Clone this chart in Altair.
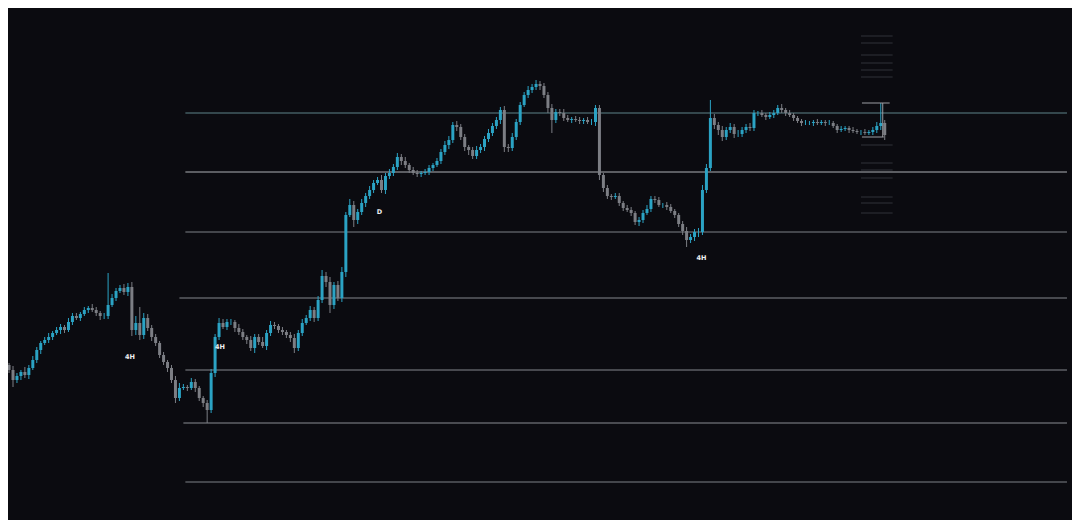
import altair as alt
import pandas as pd

# ---------------- data ----------------
first_open = 138
closes = [
    135, 130, 120, 124, 128, 125, 132, 140, 150, 157,
    160, 163, 167, 170, 173, 170, 178, 184, 182, 186,
    190, 192, 190, 187, 184, 184, 195, 202, 209, 212,
    208, 213, 170, 177, 165, 182, 172, 163, 157, 145,
    138, 132, 120, 102, 112, 113, 112, 118, 112, 102,
    97, 90, 127, 163, 177, 173, 178, 178, 172, 168,
    163, 160, 152, 163, 158, 154, 167, 175, 174, 170,
    168, 165, 162, 152, 167, 177, 182, 190, 182, 200,
    224, 218, 195, 215, 202, 228, 285, 295, 280, 288,
    297, 304, 310, 317, 320, 310, 324, 327, 333, 343,
    339, 335, 330, 327, 326, 327, 328, 332, 335, 339,
    348, 355, 360, 375, 373, 363, 353, 350, 344, 350,
    353, 361, 367, 374, 380, 390, 353, 352, 363, 378,
    395, 405, 410, 413, 416, 414, 405, 392, 380, 388,
    387, 382, 380, 381, 380, 379, 380, 378, 378, 392,
    325, 312, 304, 303, 304, 297, 292, 290, 287, 278,
    280, 287, 291, 301, 300, 295, 295, 293, 289, 285,
    276, 269, 260, 263, 268, 268, 310, 332, 382, 375,
    370, 363, 370, 373, 366, 366, 370, 373, 372, 387,
    387, 385, 383, 385, 387, 392, 390, 387, 385, 382,
    379, 377, 377, 377, 378, 377, 378, 377, 377, 374,
    370, 371, 372, 370, 369, 368, 368, 367, 368, 370,
    374, 377, 365,
]
wick_up = [
    3, 2, 4, 3, 2, 5, 3, 4, 3, 2,
    3, 4, 2, 3, 3, 2, 4, 3, 3, 2,
    3, 2, 4, 3, 2, 3, 32, 4, 3, 3,
    4, 4, 5, 7, 16, 5, 4, 3, 3, 2,
    3, 2, 3, 4, 5, 3, 2, 4, 3, 2,
    2, 3, 4, 3, 5, 4, 3, 3, 2, 4,
    3, 2, 4, 3, 3, 5, 3, 4, 3, 2,
    3, 2, 3, 4, 3, 4, 3, 4, 3, 4,
    6, 4, 5, 3, 4, 5, 3, 6, 4, 3,
    4, 3, 4, 3, 3, 5, 3, 4, 3, 4,
    3, 4, 2, 3, 3, 2, 3, 3, 2, 3,
    3, 4, 4, 3, 4, 3, 3, 2, 3, 4,
    3, 3, 4, 3, 3, 3, 4, 3, 4, 3,
    3, 3, 4, 3, 4, 3, 3, 3, 4, 3,
    3, 4, 3, 2, 3, 3, 2, 3, 3, 3,
    3, 2, 3, 2, 3, 3, 2, 3, 3, 2,
    3, 3, 4, 3, 3, 3, 2, 3, 3, 2,
    2, 3, 4, 3, 3, 4, 5, 4, 18, 4,
    3, 4, 3, 4, 3, 4, 3, 3, 4, 3,
    2, 3, 2, 3, 3, 3, 4, 2, 3, 2,
    2, 2, 3, 2, 2, 3, 2, 2, 3, 2,
    2, 3, 2, 2, 3, 2, 2, 3, 2, 3,
    4, 20, 3,
]
wick_down = [
    4, 3, 7, 3, 4, 3, 4, 2, 3, 4,
    2, 3, 3, 2, 4, 3, 2, 3, 2, 3,
    2, 3, 2, 3, 4, 3, 3, 2, 3, 2,
    3, 4, 6, 5, 5, 4, 3, 4, 3, 3,
    3, 4, 3, 5, 3, 2, 3, 2, 4, 3,
    4, 13, 3, 4, 3, 2, 3, 3, 4, 3,
    3, 4, 3, 5, 3, 2, 4, 3, 3, 3,
    3, 3, 4, 5, 3, 3, 2, 3, 4, 3,
    3, 5, 8, 4, 3, 4, 5, 2, 7, 4,
    3, 4, 3, 3, 2, 3, 4, 3, 3, 3,
    4, 3, 3, 2, 3, 3, 2, 3, 3, 2,
    3, 3, 4, 3, 4, 3, 4, 5, 3, 3,
    3, 4, 3, 3, 3, 4, 5, 4, 3, 3,
    3, 2, 3, 3, 3, 4, 3, 5, 13, 3,
    3, 3, 2, 3, 2, 3, 3, 2, 3, 4,
    5, 4, 3, 3, 2, 3, 3, 2, 3, 3,
    4, 3, 2, 3, 3, 2, 3, 3, 2, 3,
    3, 4, 7, 3, 4, 5, 3, 3, 3, 4,
    5, 4, 3, 3, 4, 3, 3, 3, 3, 3,
    3, 2, 3, 2, 3, 2, 3, 3, 2, 3,
    2, 3, 2, 2, 3, 2, 2, 3, 2, 2,
    3, 2, 2, 3, 2, 2, 3, 2, 2, 3,
    3, 4, 5,
]

# horizontal price levels
level_prices = [387, 328, 268, 202, 130, 77, 18]
level_starts = [45.5, 45.5, 45.5, 44.0, 45.5, 45.0, 45.5]
level_colors = ["#5f8489", "#aeb1b5", "#7f8287", "#85888d", "#85888d", "#8a8d92", "#7f8287"]

# small price ladder at the right
ladder_prices = [464, 457, 445, 437, 430, 423, 355, 337, 330, 322, 303, 297, 287]

# labels
label_texts = ["4H", "4H", "D", "4H"]
label_idx = [31.5, 54.25, 94.5, 175.75]
label_prices = [143, 153, 288, 242]

# position box (segments)
box_x = [216.25, 216.25, 221.5]
box_x2 = [223.25, 221.75, 221.5]
box_y = [397, 363, 363]
box_y2 = [397, 363, 397]

X_DOMAIN = [2, 268]
Y_DOMAIN = [-20, 492]
BG = "#0b0b10"
UP = "#2ba3c4"
DOWN = "#7c7e84"

# ---------------- frames ----------------
rows = []
for i, c in enumerate(closes):
    o = closes[i - 1] if i > 0 else first_open
    rows.append({
        "i": i,
        "open": o,
        "close": c,
        "high": max(o, c) + wick_up[i],
        "low": min(o, c) - wick_down[i],
        "dir": "up" if c >= o else "down",
    })
candles = pd.DataFrame(rows)

levels = pd.DataFrame({
    "price": level_prices,
    "start": level_starts,
    "end": [X_DOMAIN[1]] * len(level_prices),
    "c": level_colors,
})
ladder = pd.DataFrame({
    "price": ladder_prices,
    "start": [216.0] * len(ladder_prices),
    "end": [224.0] * len(ladder_prices),
})
labels = pd.DataFrame({"t": label_texts, "i": label_idx, "p": label_prices})
box = pd.DataFrame({"x": box_x, "x2": box_x2, "y": box_y, "y2": box_y2})

xs = alt.Scale(domain=X_DOMAIN, nice=False, zero=False)
ys = alt.Scale(domain=Y_DOMAIN, nice=False, zero=False)
col = alt.Color("dir:N", scale=alt.Scale(domain=["up", "down"], range=[UP, DOWN]), legend=None)

level_layer = alt.Chart(levels).mark_rule(strokeWidth=1, clip=True).encode(
    x=alt.X("start:Q", scale=xs, axis=None),
    x2="end:Q",
    y=alt.Y("price:Q", scale=ys, axis=None),
    stroke=alt.Stroke("c:N", scale=None, legend=None),
)

ladder_layer = alt.Chart(ladder).mark_rule(strokeWidth=1, color="#303238", clip=True).encode(
    x=alt.X("start:Q", scale=xs, axis=None),
    x2="end:Q",
    y=alt.Y("price:Q", scale=ys, axis=None),
)

wicks = alt.Chart(candles).mark_rule(strokeWidth=1, clip=True).encode(
    x=alt.X("i:Q", scale=xs, axis=None),
    y=alt.Y("low:Q", scale=ys, axis=None),
    y2="high:Q",
    color=col,
)

bodies = alt.Chart(candles).mark_bar(size=3, clip=True).encode(
    x=alt.X("i:Q", scale=xs, axis=None),
    y=alt.Y("open:Q", scale=ys, axis=None),
    y2="close:Q",
    color=col,
)

box_layer = alt.Chart(box).mark_rule(strokeWidth=1, color="#9c9ea3", clip=True).encode(
    x=alt.X("x:Q", scale=xs, axis=None),
    x2="x2:Q",
    y=alt.Y("y:Q", scale=ys, axis=None),
    y2="y2:Q",
)

label_layer = alt.Chart(labels).mark_text(
    fontSize=6.5, fontWeight="bold", color="#f0f0f2", font="DejaVu Sans"
).encode(
    x=alt.X("i:Q", scale=xs, axis=None),
    y=alt.Y("p:Q", scale=ys, axis=None),
    text="t:N",
)

chart = alt.layer(
    level_layer, ladder_layer, wicks, bodies, box_layer, label_layer
).resolve_scale(
    color="independent", stroke="independent"
).properties(
    width=1064,
    height=512,
    padding=0,
    background=BG,
).configure_view(stroke=None)

chart.save("out.html", embed_options={"renderer": "svg", "actions": False})
